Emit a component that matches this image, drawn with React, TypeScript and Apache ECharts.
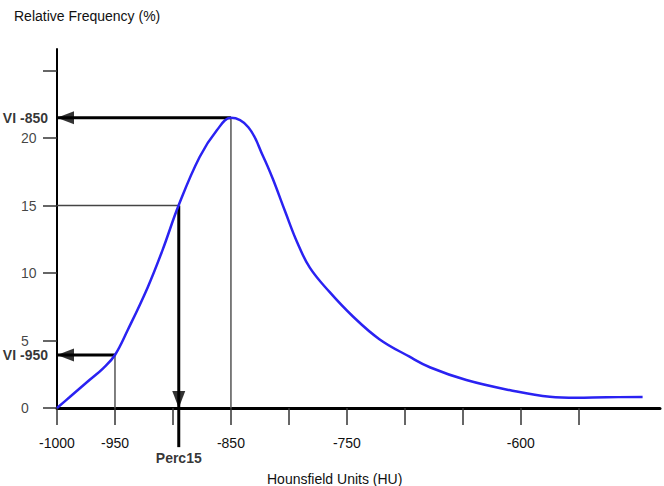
import React, { useEffect, useRef } from "react";
import * as echarts from "echarts";

// Hounsfield units (x) and relative frequency (%) of the histogram curve
const hu = [-1000, -989, -972, -960, -950, -939, -922, -909, -895, -877, -862, -850, -835, -822, -814, -803, -793, -782, -765, -745, -722, -696, -678, -647, -610, -575, -552, -526, -495];
const freq = [0, 0.81, 2.07, 2.96, 3.93, 5.78, 8.9, 11.7, 15.04, 18.6, 20.6, 21.5, 20.8, 18.6, 17.0, 14.5, 12.3, 10.4, 8.6, 6.8, 5.1, 3.8, 3.0, 2.07, 1.33, 0.83, 0.76, 0.8, 0.81];

const xTicks = [-1000, -950, -900, -850, -800, -750, -700, -650, -600, -550];
const xLabels = [-1000, -950, -850, -750, -600];
const yTicks = [0, 5, 10, 15, 20, 25];
const yLabels = [0, 5, 10, 15, 20];

const VI850 = { x: -850, y: 21.5, label: "VI -850" };
const VI950 = { x: -950, y: 3.93, label: "VI -950" };
const PERC15 = { x: -895, y: 15, bottom: -2.9, label: "Perc15" };
const X_MIN = -1000;
const X_MAX = -480;
const Y_MAX = 26.6;

const FONT = "Liberation Sans";

function seg(points: number[][], width: number, color: string, clip = true) {
  return {
    type: "line",
    data: points,
    symbol: "none",
    clip,
    silent: true,
    lineStyle: { width, color },
    z: 3,
  };
}

function head(pt: number[], rotate: number, offset: number[]) {
  return {
    type: "scatter",
    data: [pt],
    symbol: "triangle",
    symbolSize: [13, 17],
    symbolRotate: rotate,
    symbolOffset: offset,
    clip: false,
    silent: true,
    itemStyle: { color: "#000" },
    z: 6,
  };
}

function txt(pt: number[], text: string, position: string, distance: number) {
  return {
    type: "scatter",
    data: [{ value: pt, name: text }],
    symbolSize: 0,
    clip: false,
    silent: true,
    label: {
      show: true,
      position,
      distance,
      formatter: "{b}",
      fontFamily: FONT,
      fontSize: 14,
      fontWeight: "bold",
      color: "#000",
    },
    z: 7,
  };
}

export default function App() {
  const ref = useRef<HTMLDivElement>(null);
  useEffect(() => {
    if (!ref.current) return;
    const chart = echarts.init(ref.current, null, { renderer: "svg" });
    const curve = hu.map((h, i) => [h, freq[i]]);
    chart.setOption({
      animation: false,
      backgroundColor: "#fff",
      title: [
        {
          text: "Relative Frequency (%)",
          left: 9,
          top: 4,
          textStyle: { fontFamily: FONT, fontSize: 14, fontWeight: "normal", color: "#111" },
        },
        {
          text: "Hounsfield Units (HU)",
          left: 262,
          top: 467,
          textStyle: { fontFamily: FONT, fontSize: 14, fontWeight: "normal", color: "#111" },
        },
      ],
      grid: { left: 57, top: 49, bottom: 78, right: 4, containLabel: false },
      xAxis: {
        type: "value",
        min: X_MIN,
        max: X_MAX,
        interval: 50,
        axisLine: { show: true, onZero: false, lineStyle: { color: "#000", width: 3 } },
        axisTick: { show: true, length: 17, customValues: xTicks, lineStyle: { color: "#333", width: 1.5 } },
        axisLabel: {
          customValues: xLabels,
          formatter: (v: number) => String(v),
          margin: 28,
          fontFamily: FONT,
          fontSize: 14,
          color: "#111",
        },
        splitLine: { show: false },
      },
      yAxis: {
        type: "value",
        min: 0,
        max: Y_MAX,
        interval: 5,
        axisLine: { show: true, onZero: false, lineStyle: { color: "#000", width: 2 } },
        axisTick: { show: true, length: 14, customValues: yTicks, lineStyle: { color: "#333", width: 1.5 } },
        axisLabel: { show: false },
        splitLine: { show: false },
      },
      series: [
        seg([[VI850.x, VI850.y], [VI850.x, 0]], 1.5, "#555"),
        seg([[X_MIN, PERC15.y], [PERC15.x, PERC15.y]], 1.5, "#444"),
        seg([[VI950.x, VI950.y], [VI950.x, 0]], 1.5, "#555"),
        {
          type: "line",
          data: curve,
          smooth: 0.4,
          smoothConstraint: false,
          symbol: "none",
          silent: true,
          lineStyle: { color: "#2a22f2", width: 2.5 },
          z: 5,
        },
        seg([[VI850.x, VI850.y], [X_MIN, VI850.y]], 3, "#000"),
        seg([[VI950.x, VI950.y], [X_MIN, VI950.y]], 3, "#000"),
        seg([[PERC15.x, PERC15.y], [PERC15.x, PERC15.bottom]], 3, "#000", false),
        head([X_MIN, VI850.y], 90, [8.5, 0]),
        head([X_MIN, VI950.y], 90, [8.5, 0]),
        head([PERC15.x, 0], 180, [0, -8.5]),
        txt([X_MIN, VI850.y], VI850.label, "left", 9),
        txt([X_MIN, VI950.y], VI950.label, "left", 9),
        txt([PERC15.x, PERC15.bottom], PERC15.label, "bottom", 4),
        {
          type: "scatter",
          data: yLabels.map((v) => [X_MIN, v]),
          symbolSize: 0,
          clip: false,
          silent: true,
          label: {
            show: true,
            position: [-36, 0],
            align: "left",
            verticalAlign: "middle",
            formatter: (p: any) => String(p.value[1]),
            fontFamily: FONT,
            fontSize: 14,
            color: "#111",
          },
          z: 7,
        },
      ],
    });
    return () => chart.dispose();
  }, []);
  return <div ref={ref} style={{ width: 664, height: 486, position: "absolute", left: 0, top: 0 }} />;
}
